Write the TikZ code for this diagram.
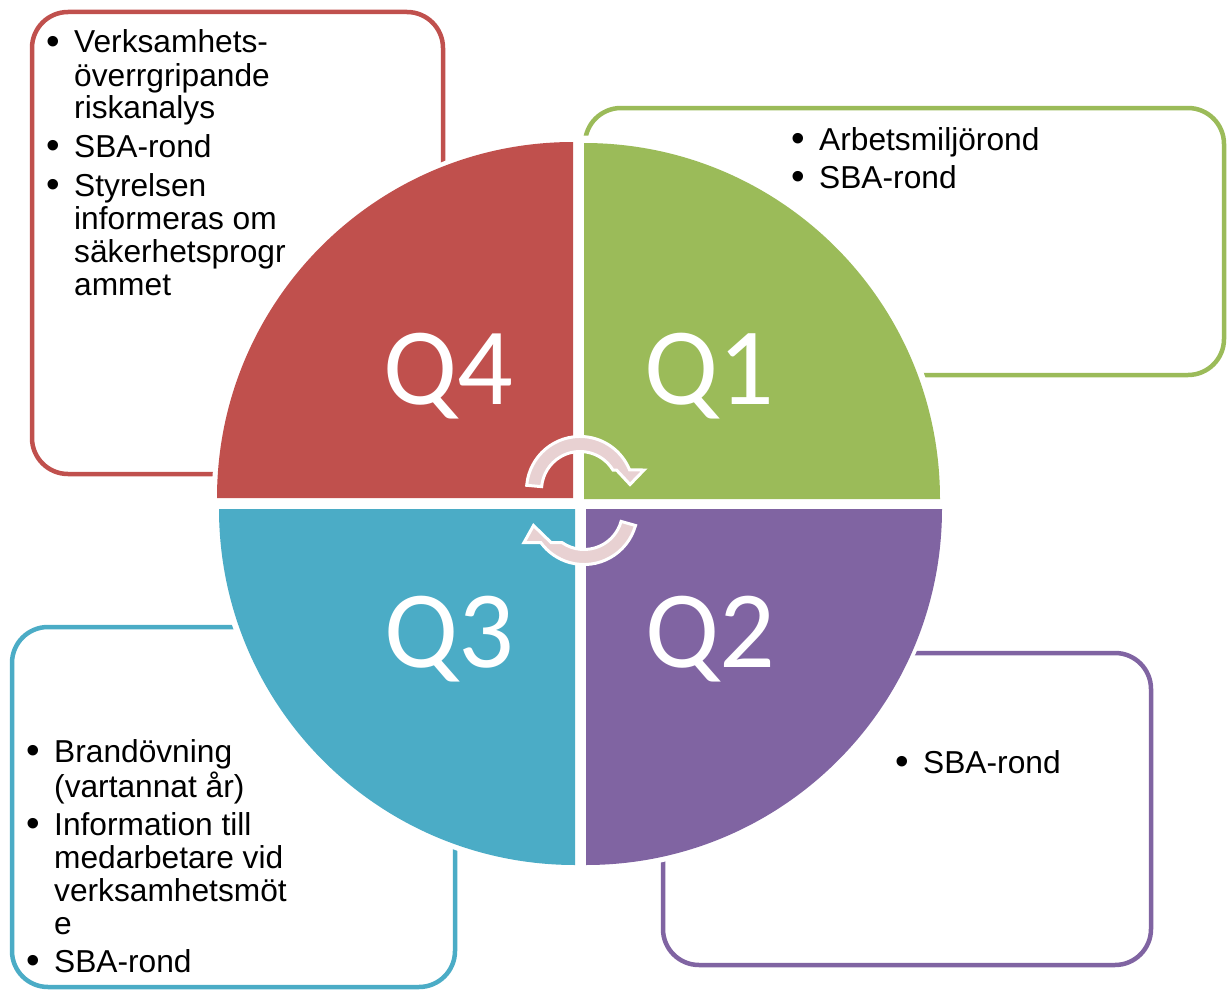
\documentclass[tikz,border=0pt]{standalone}
\usepackage{fontspec}
\setmainfont{Liberation Sans}
\newfontfamily\qfont{Carlito}
\definecolor{cred}{HTML}{C0504D}
\definecolor{cgreen}{HTML}{9BBB59}
\definecolor{cpurple}{HTML}{8064A2}
\definecolor{cblue}{HTML}{4BACC6}
\definecolor{cpink}{HTML}{E8D1D2}
\newcommand{\mybul}{\makebox[24.5pt][l]{\hspace{-3.5pt}\raisebox{-1.1pt}{\scalebox{1.22}{\textbullet}}}}
\begin{document}
\begin{tikzpicture}[x=1pt,y=-1pt,
  box/.style={draw=#1, line width=4.5pt, fill=white, rounded corners=36pt},
  quad/.style={fill=#1},
  qlabel/.style={text=white, font=\qfont\fontsize{110}{110}\selectfont, anchor=base, inner sep=0pt},
  txt/.style={anchor=base west, inner sep=0pt, font=\fontsize{31.7}{33}\selectfont},
  cyc/.style={fill=cpink, draw=white, line width=3pt, line join=miter}]
\useasboundingbox (0,0) rectangle (1227,990);
% text boxes
\draw[box=cred] (32,12) rectangle (443,474);
\draw[box=cgreen] (585,108) rectangle (1224,375);
\draw[box=cpurple] (663,653) rectangle (1151,965);
\draw[box=cblue] (12,627) rectangle (455,987);
% white halo behind the circle
\fill[white] (579.5,503.5) circle[radius=368];
% quadrants
\fill[quad=cred] (573,498) -- (217,498) arc[start angle=180, end angle=270, radius=356] -- cycle;
\fill[quad=cgreen] (584,499) -- (584,143) arc[start angle=270, end angle=360, radius=356] -- cycle;
\fill[quad=cpurple] (586,509) -- (942,509) arc[start angle=0, end angle=90, radius=356] -- cycle;
\fill[quad=cblue] (575,509) -- (575,865) arc[start angle=90, end angle=180, radius=356] -- cycle;
% cycle arrows
\path[cyc] (526.7,485.3) arc[start angle=-175, end angle=-21.95, radius=53.5] -- (644,470) -- (630,484.5) -- (616.5,470) -- (612.9,470) arc[start angle=-31.3, end angle=-175, radius=38.5] -- cycle;
\path[cyc] (635.5,525.5) arc[start angle=15.7, end angle=143.93, radius=53.5] -- (524,542.5) -- (533.5,525.5) -- (551,542.5) -- (561.9,542.5) arc[start angle=125.1, end angle=15.7, radius=38.5] -- cycle;
% quadrant labels
\node[qlabel] (q4) at (448.5,404) {Q4};
\node[qlabel] (q1) at (709,404) {Q1};
\node[qlabel] (q3) at (449,667) {Q3};
\node[qlabel] (q2) at (710,667) {Q2};
% box texts
\node[txt] (t4) at (49.5,53) {\begin{tabular}[t]{@{}l@{}l@{}}\mybul & Verksamhets-\\ & överrgripande\\ & riskanalys\\[5.5pt] \mybul & SBA-rond\\[6pt] \mybul & Styrelsen\\ & informeras om\\ & säkerhetsprogr\\ & ammet\end{tabular}};
\node[txt] (t1) at (794.5,150) {\begin{tabular}[t]{@{}l@{}l@{}}\mybul & Arbetsmiljörond\\[5pt] \mybul & SBA-rond\end{tabular}};
\node[txt] (t2) at (898.5,773) {\begin{tabular}[t]{@{}l@{}l@{}}\mybul & SBA-rond\end{tabular}};
\node[txt] (t3) at (29.5,762) {\begin{tabular}[t]{@{}l@{}l@{}}\mybul & Brandövning\\ & (vartannat år)\\[5pt] \mybul & Information till\\ & medarbetare vid\\ & verksamhetsmöt\\ & e\\[5pt] \mybul & SBA-rond\end{tabular}};
\end{tikzpicture}
\end{document}
